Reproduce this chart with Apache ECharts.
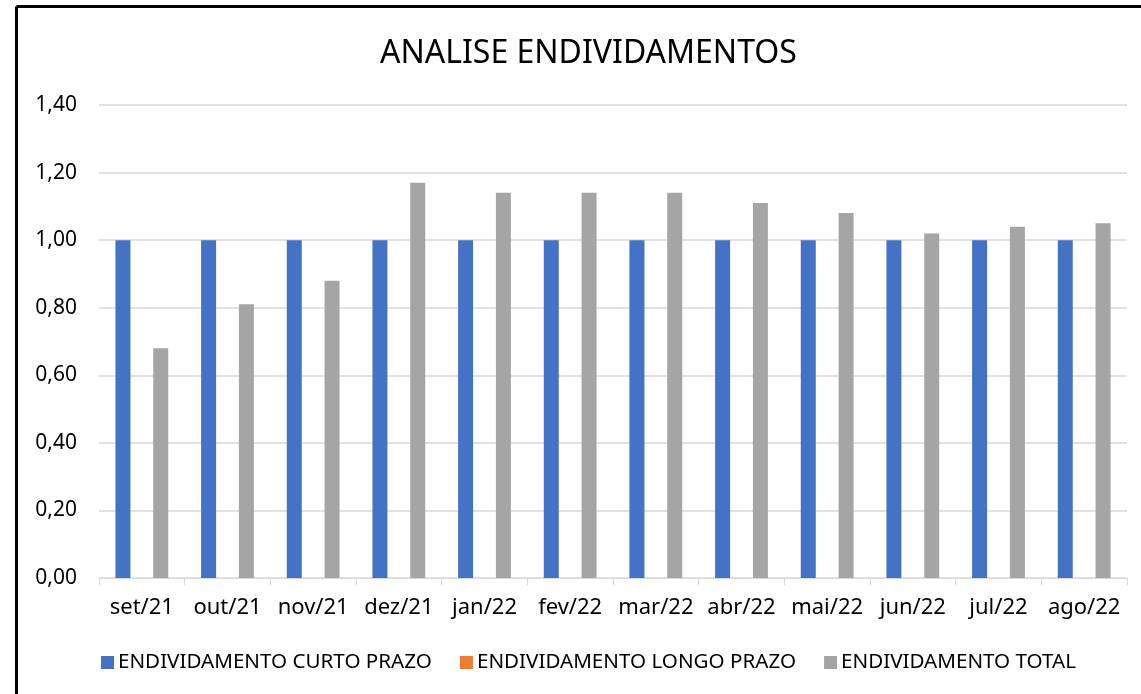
<!DOCTYPE html>
<html>
<head>
<meta charset="utf-8">
<script src="https://cdn.jsdelivr.net/npm/echarts@6/dist/echarts.min.js"></script>
<style>
  html, body { margin: 0; padding: 0; background: #fff; }
  #chart { width: 1141px; height: 694px; }
</style>
</head>
<body>
<div id="chart"></div>
<script>
const categories = ['set/21', 'out/21', 'nov/21', 'dez/21', 'jan/22', 'fev/22', 'mar/22', 'abr/22', 'mai/22', 'jun/22', 'jul/22', 'ago/22'];
const curtoPrazo = [1.00, 1.00, 1.00, 1.00, 1.00, 1.00, 1.00, 1.00, 1.00, 1.00, 1.00, 1.00];
const longoPrazo = [0, 0, 0, 0, 0, 0, 0, 0, 0, 0, 0, 0];
const total = [0.68, 0.81, 0.88, 1.17, 1.14, 1.14, 1.14, 1.11, 1.08, 1.02, 1.04, 1.05];
const seriesNames = ['ENDIVIDAMENTO CURTO PRAZO', 'ENDIVIDAMENTO LONGO PRAZO', 'ENDIVIDAMENTO TOTAL'];

const font = 'Noto Sans';
const myChart = echarts.init(document.getElementById('chart'));

const barStyle = { barWidth: 15, barGap: '26%' };

myChart.setOption({
  animation: false,
  backgroundColor: '#fff',
  textStyle: { fontFamily: font },
  title: {
    text: 'ANALISE ENDIVIDAMENTOS',
    left: 375,
    top: 33,
    textStyle: { fontFamily: font, fontSize: 32, fontWeight: 'normal', color: '#000' }
  },
  legend: {
    bottom: 16,
    left: 96,
    itemWidth: 13,
    itemHeight: 13,
    itemGap: 28,
    icon: 'rect',
    textStyle: { fontFamily: font, fontSize: 20.6, color: '#000', padding: [0, 0, 0, -1] },
    data: seriesNames
  },
  grid: { left: 99, right: 14, top: 105, bottom: 116 },
  xAxis: {
    type: 'category',
    data: categories,
    axisLine: { lineStyle: { color: '#d9d9d9', width: 1 } },
    axisTick: { show: true, length: 7, lineStyle: { color: '#d9d9d9' } },
    axisLabel: { fontFamily: font, fontSize: 22, color: '#000', margin: 19, interval: 0 }
  },
  yAxis: {
    type: 'value',
    min: 0,
    max: 1.4,
    interval: 0.2,
    axisLine: { show: false },
    axisTick: { show: false },
    splitLine: { lineStyle: { color: '#d9d9d9', width: 1.5 } },
    axisLabel: {
      fontFamily: font, fontSize: 21, color: '#000', margin: 22,
      formatter: v => v.toFixed(2).replace('.', ',')
    }
  },
  graphic: [
    { type: 'line', shape: { x1: 16.5, y1: 6.5, x2: 1141, y2: 6.5 }, style: { stroke: '#000', lineWidth: 3 } },
    { type: 'line', shape: { x1: 16.5, y1: 6.5, x2: 16.5, y2: 694 }, style: { stroke: '#000', lineWidth: 3 } }
  ],
  series: [
    { name: seriesNames[0], type: 'bar', data: curtoPrazo, itemStyle: { color: '#4472c4' }, ...barStyle },
    { name: seriesNames[1], type: 'bar', data: longoPrazo, itemStyle: { color: '#ed7d31' }, ...barStyle },
    { name: seriesNames[2], type: 'bar', data: total, itemStyle: { color: '#a5a5a5' }, ...barStyle }
  ]
});

window.addEventListener('resize', () => {
  myChart.resize();
});
</script>
</body>
</html>
